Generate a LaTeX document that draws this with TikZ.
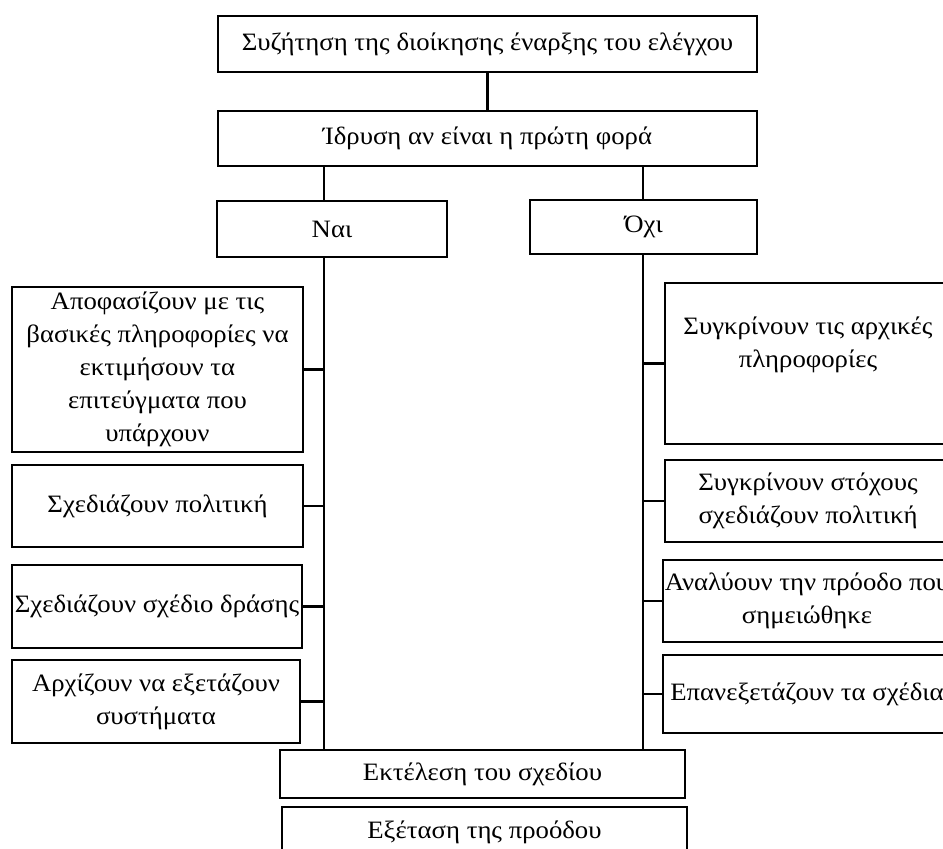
\documentclass[tikz,border=0pt]{standalone}
\usepackage{fontspec}
\setmainfont{Liberation Serif}[FakeStretch=1.07]
\usepackage{tikz}
\usetikzlibrary{calc}
\tikzstyle{tsText} = [ 
    text=black, 
    font=\fontsize{25}{33}\selectfont
]
\tikzstyle{tsWraptext} = [ 
    tsText, 
    text centered, 
    align=center
]
\tikzstyle{tsBox} = [ 
    rectangle,
    tsWraptext,               
    draw=black,
    inner sep=0pt,
    line width=2.2pt]
\tikzstyle{tsLine} = [-, line width=2.2pt]

\begin{document}
\begin{tikzpicture}[x=1pt, y=1pt]

        \useasboundingbox[fill=white] (0,0) rectangle (943,-849);

        % top of the chart
        \node[tsBox, minimum width=539pt, minimum height=56pt] (discuss) at (487.5,-44) {Συζήτηση της διοίκησης έναρξης του ελέγχου};
        \node[tsBox, minimum width=539pt, minimum height=55pt] (found) at (487.5,-138.5) {Ίδρυση αν είναι η πρώτη φορά};
        \node[tsBox, minimum width=230pt, minimum height=56pt] (yes) at (332,-229) {Ναι};
        \node[tsBox, minimum width=227pt, minimum height=54pt] (no) at (643.5,-227) {Όχι};

        \coordinate (yesTrunk) at (324,-166);
        \coordinate (noTrunk) at (643,-166);

        % left column
        \node[tsBox, minimum width=291pt, minimum height=165pt] (decide) at (157.5,-369.5) {Αποφασίζουν με τις\\βασικές πληροφορίες να\\εκτιμήσουν τα\\επιτεύγματα που\\υπάρχουν};
        \node[tsBox, minimum width=291pt, minimum height=82pt] (policy) at (157.5,-506) {Σχεδιάζουν πολιτική};
        \node[tsBox, minimum width=290pt, minimum height=83pt] (action) at (157,-606.5) {Σχεδιάζουν σχέδιο δράσης};
        \node[tsBox, minimum width=288pt, minimum height=83pt] (systems) at (156,-701.5) {Αρχίζουν να εξετάζουν\\συστήματα};

        % right column
        \node[tsBox, minimum width=286pt, minimum height=161pt] (compare) at (808,-363.5) {Συγκρίνουν τις αρχικές\\πληροφορίες\rule[-42pt]{0pt}{0pt}};
        \node[tsBox, minimum width=286pt, minimum height=82pt] (goals) at (808,-501) {Συγκρίνουν στόχους\\σχεδιάζουν πολιτική};
        \node[tsBox, minimum width=288pt, minimum height=82pt] (progress) at (807,-601) {Αναλύουν την πρόοδο που\\σημειώθηκε};
        \node[tsBox, minimum width=288pt, minimum height=78pt] (review) at (807,-694) {Επανεξετάζουν τα σχέδια};

        % bottom
        \node[tsBox, minimum width=405pt, minimum height=48pt] (execute) at (482.5,-774) {Εκτέλεση του σχεδίου};
        \node[tsBox, minimum width=405pt, minimum height=50pt] (check) at (484.5,-832) {Εξέταση της προόδου};

        \draw[tsLine] (discuss.south) -- (found.north);
        \draw[tsLine] (yesTrunk |- found.south) -- (yesTrunk |- yes.north);
        \draw[tsLine] (noTrunk |- found.south) -- (noTrunk |- no.north);
        \draw[tsLine] (yesTrunk |- yes.south) -- (yesTrunk |- execute.north);
        \draw[tsLine] (noTrunk |- no.south) -- (noTrunk |- execute.north);

        \draw[tsLine] (decide.east) -- (decide.east -| yesTrunk);
        \draw[tsLine] (policy.east) -- (policy.east -| yesTrunk);
        \draw[tsLine] (action.east) -- (action.east -| yesTrunk);
        \draw[tsLine] (systems.east) -- (systems.east -| yesTrunk);

        \draw[tsLine] (compare.west) -- (compare.west -| noTrunk);
        \draw[tsLine] (goals.west) -- (goals.west -| noTrunk);
        \draw[tsLine] (progress.west) -- (progress.west -| noTrunk);
        \draw[tsLine] (review.west) -- (review.west -| noTrunk);

\end{tikzpicture}
\end{document}
